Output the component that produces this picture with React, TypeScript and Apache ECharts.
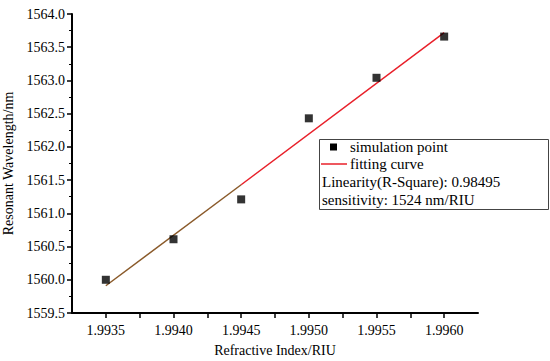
import React, { useEffect, useRef } from "react";
import * as echarts from "echarts";

const simX = [1.9935, 1.994, 1.9945, 1.995, 1.9955, 1.996];
const simY = [1560.0, 1560.61, 1561.21, 1562.43, 1563.04, 1563.66];
const fitLowX = [1.9935, 1.9945];
const fitLowY = [1559.91, 1561.43];
const fitHighX = [1.9945, 1.996];
const fitHighY = [1561.43, 1563.72];
const legendLines = [
  "simulation point",
  "fitting curve",
  "Linearity(R-Square): 0.98495",
  "sensitivity: 1524 nm/RIU",
];

const FONT = "'Liberation Serif', 'Times New Roman', serif";

export default function App() {
  const ref = useRef<HTMLDivElement>(null);
  useEffect(() => {
    if (!ref.current) return;
    const chart = echarts.init(ref.current, null, { renderer: "svg" });
    const axisText = { color: "#000", fontFamily: FONT, fontSize: 14 };
    chart.setOption({
      animation: false,
      backgroundColor: "#fff",
      grid: {
        left: 72,
        right: 72,
        top: 14,
        bottom: 48,
        containLabel: false,
        outerBoundsMode: "none",
      },
      xAxis: {
        type: "value",
        min: 1.99325,
        max: 1.99625,
        interval: 0.00025,
        name: "Refractive Index/RIU",
        nameLocation: "middle",
        nameGap: 30,
        nameTextStyle: { ...axisText },
        axisLine: { show: true, lineStyle: { color: "#000", width: 2 } },
        axisTick: { show: true, inside: false, length: 5, lineStyle: { color: "#000", width: 1.5 } },
        splitLine: { show: false },
        axisLabel: {
          ...axisText,
          margin: 10,
          showMinLabel: false,
          showMaxLabel: false,
          formatter: (v: number) => {
            const k = Math.round(v * 10000);
            if (k % 5 !== 0) return "";
            return (k / 10000).toFixed(4);
          },
        },
      },
      yAxis: {
        type: "value",
        min: 1559.5,
        max: 1564.0,
        interval: 0.5,
        name: "Resonant Wavelength/nm",
        nameLocation: "middle",
        nameGap: 56,
        nameTextStyle: { ...axisText },
        axisLine: { show: true, lineStyle: { color: "#000", width: 2 } },
        axisTick: { show: true, inside: false, length: 5, lineStyle: { color: "#000", width: 1.5 } },
        minorTick: { show: true, splitNumber: 2, length: 3, lineStyle: { color: "#000", width: 1 } },
        splitLine: { show: false },
        axisLabel: {
          ...axisText,
          margin: 7,
          formatter: (v: number) => v.toFixed(1),
        },
      },
      series: [
        {
          type: "line",
          data: fitLowX.map((x, i) => [x, fitLowY[i]]),
          symbol: "none",
          lineStyle: { color: "#8a5a2a", width: 1.5 },
          z: 2,
        },
        {
          type: "line",
          data: fitHighX.map((x, i) => [x, fitHighY[i]]),
          symbol: "none",
          lineStyle: { color: "#e8202a", width: 1.5 },
          z: 2,
        },
        {
          type: "scatter",
          data: simX.map((x, i) => [x, simY[i]]),
          symbol: "rect",
          symbolSize: 8,
          itemStyle: { color: "#000" },
          z: 3,
        },
      ],
      graphic: [
        {
          type: "rect",
          shape: { x: 319.5, y: 139.5, width: 229, height: 70 },
          style: { fill: "#fff", stroke: "#444", lineWidth: 1 },
          z: 10,
        },
        {
          type: "rect",
          shape: { x: 330, y: 143.5, width: 7, height: 7 },
          style: { fill: "#000" },
          z: 11,
        },
        {
          type: "line",
          shape: { x1: 321, y1: 164, x2: 347, y2: 164 },
          style: { stroke: "#e8202a", lineWidth: 1.5 },
          z: 11,
        },
        ...legendLines.map((t, i) => ({
          type: "text",
          x: i < 2 ? 350 : 322,
          y: [147, 164, 182, 200][i],
          style: {
            text: t,
            fill: "#000",
            fontFamily: FONT,
            fontSize: 15,
            verticalAlign: "middle",
          },
          z: 11,
        })),
      ],
    });
    return () => chart.dispose();
  }, []);
  return (
    <div
      ref={ref}
      style={{ position: "fixed", left: 0, top: 0, width: 550, height: 361 }}
    />
  );
}
